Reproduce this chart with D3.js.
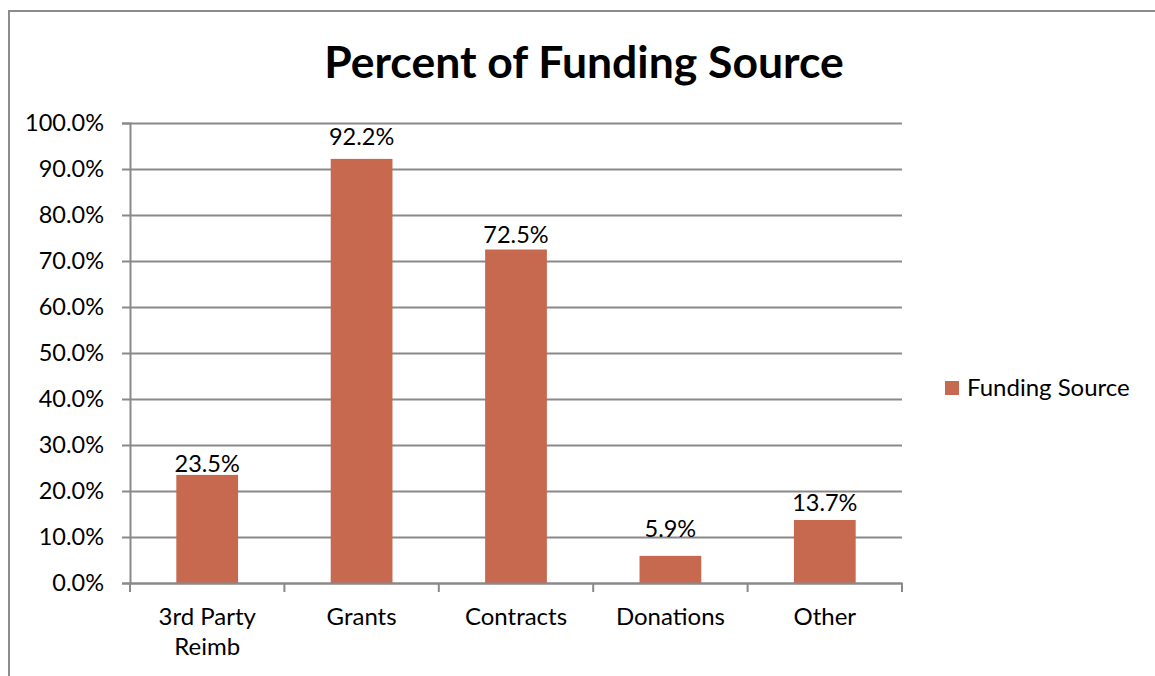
<!DOCTYPE html>
<html>
<head>
<meta charset="utf-8">
<script src="https://cdn.jsdelivr.net/npm/d3@7"></script>
<style>
  body { margin: 0; background: #fff; }
  svg { display: block; font-family: Lato, "Noto Sans", sans-serif; }
</style>
</head>
<body>
<div id="chart"></div>
<script>
// Chart data
var categories = ["3rd Party Reimb", "Grants", "Contracts", "Donations", "Other"];
var values = [0.235, 0.922, 0.725, 0.059, 0.137];
var yTicks = [0, 0.1, 0.2, 0.3, 0.4, 0.5, 0.6, 0.7, 0.8, 0.9, 1.0];
var seriesName = "Funding Source";
var title = "Percent of Funding Source";

// Layout
var width = 1155;
var height = 676;
var plot = {left: 130, right: 902, top: 123, bottom: 583};
var barColor = "#c6694f";
var lineColor = "#898989";
// how far each value label sits above its bar (it was hand-placed in the original)
var labelLift = [3, 14, 7, 19, 9];

var svg = d3.select("#chart")
    .append("svg")
    .attr("width", width)
    .attr("height", height);

// outer frame (only top and left edges show)
svg.append("path")
    .attr("d", "M9," + height + "V11H" + width)
    .attr("fill", "none")
    .attr("stroke", "#8c8c8c")
    .attr("stroke-width", 2);

svg.append("text")
    .attr("x", 584)
    .attr("y", 78)
    .attr("text-anchor", "middle")
    .attr("font-size", 44.5)
    .attr("font-weight", "bold")
    .attr("fill", "#000")
    .text(title);

var x = d3.scaleBand()
    .domain(categories)
    .range([plot.left, plot.right])
    .paddingInner(0.6)
    .paddingOuter(0.3);

var y = d3.scaleLinear()
    .domain([0, 1])
    .range([plot.bottom, plot.top]);

// gridlines
var grid = svg.append("g")
    .attr("transform", "translate(" + plot.left + ",0)")
    .call(d3.axisLeft(y).tickValues(yTicks).tickSize(-(plot.right - plot.left)).tickFormat(""));
grid.select(".domain").remove();
grid.selectAll("line").attr("stroke", lineColor).attr("stroke-width", 2);

// y axis
var yAxis = svg.append("g")
    .attr("transform", "translate(" + plot.left + ",0)")
    .call(d3.axisLeft(y).tickValues(yTicks).tickSize(8).tickPadding(18).tickFormat(d3.format(".1%")));
yAxis.select(".domain").attr("stroke", lineColor).attr("stroke-width", 2);
yAxis.selectAll("line").attr("stroke", lineColor).attr("stroke-width", 2);
yAxis.selectAll("text")
    .attr("font-size", 23.5)
    .attr("font-family", "Lato, sans-serif")
    .attr("fill", "#000");

// bars
svg.selectAll("rect.bar")
    .data(values)
    .enter()
    .append("rect")
        .attr("class", "bar")
        .attr("fill", barColor)
        .attr("x", function (d, i) { return x(categories[i]); })
        .attr("width", x.bandwidth())
        .attr("y", function (d) { return y(d); })
        .attr("height", function (d) { return y(0) - y(d); });

// value labels
svg.selectAll("text.val")
    .data(values)
    .enter()
    .append("text")
        .attr("class", "val")
        .attr("x", function (d, i) { return x(categories[i]) + x.bandwidth() / 2; })
        .attr("y", function (d, i) { return y(d) - labelLift[i]; })
        .attr("text-anchor", "middle")
        .attr("font-size", 23.5)
        .attr("fill", "#000")
        .text(function (d) { return d3.format(".1%")(d); });

// x axis: baseline, ticks between categories, wrapped labels
var xAxis = svg.append("g")
    .attr("transform", "translate(0," + plot.bottom + ")")
    .call(d3.axisBottom(x).tickSize(0).tickPadding(25));
xAxis.select(".domain").attr("stroke", lineColor).attr("stroke-width", 2);
xAxis.selectAll("text")
    .attr("font-size", 24)
    .attr("font-family", "Lato, sans-serif")
    .attr("fill", "#000")
    .each(function (d) {
        var t = d3.select(this);
        var words = d.length > 10 ? ["3rd Party", "Reimb"] : [d];
        if (words.length > 1) {
            t.text(null);
            words.forEach(function (w, k) {
                t.append("tspan").attr("x", 0).attr("dy", k === 0 ? "0.71em" : "1.25em").text(w);
            });
        }
    });

var edges = d3.range(categories.length + 1).map(function (i) {
    return plot.left + i * x.step();
});
xAxis.selectAll("line.edge")
    .data(edges)
    .enter()
    .append("line")
        .attr("class", "edge")
        .attr("x1", function (d) { return d; })
        .attr("x2", function (d) { return d; })
        .attr("y1", 0)
        .attr("y2", 9)
        .attr("stroke", lineColor)
        .attr("stroke-width", 2);

// legend
var legend = svg.append("g").attr("transform", "translate(945,381)");
legend.append("rect")
    .attr("width", 14)
    .attr("height", 14)
    .attr("fill", barColor);
legend.append("text")
    .attr("x", 22)
    .attr("y", 15)
    .attr("font-size", 24)
    .attr("fill", "#000")
    .text(seriesName);
</script>
</body>
</html>
